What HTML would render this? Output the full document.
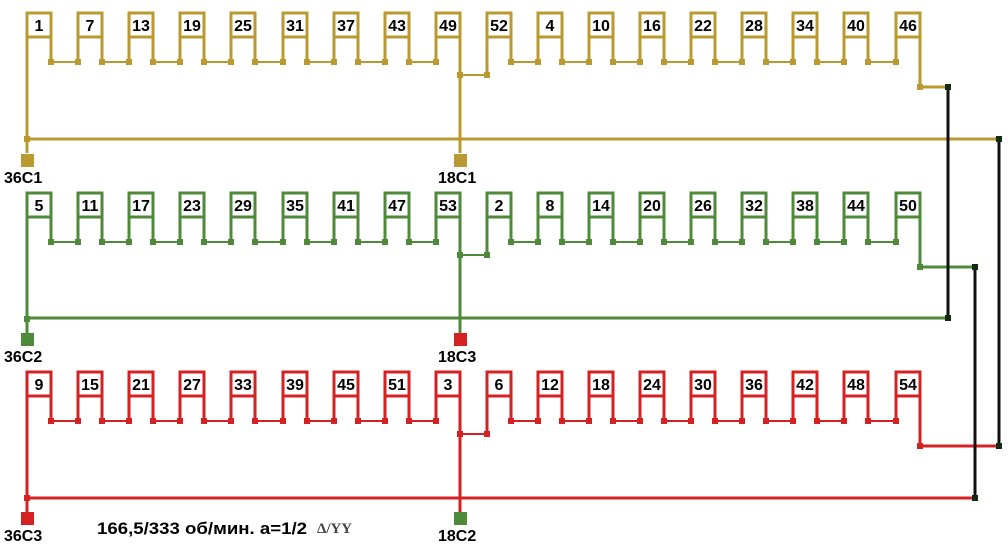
<!DOCTYPE html>
<html><head><meta charset="utf-8"><style>
html,body{margin:0;padding:0;background:#fff;width:1008px;height:550px;overflow:hidden}
svg text{font-family:"Liberation Sans",sans-serif;font-weight:bold;font-size:16px;fill:#000}
</style></head><body>
<svg width="1008" height="550" viewBox="0 0 1008 550" xmlns="http://www.w3.org/2000/svg">
<defs>
<g id="row">
<path fill="none" stroke="currentColor" stroke-width="3" d="M27 62V13H51V62M27 37H51M78 62V13H102V62M78 37H102M129 62V13H153V62M129 37H153M180 62V13H204V62M180 37H204M231 62V13H255V62M231 37H255M283 62V13H307V62M283 37H307M334 62V13H358V62M334 37H358M385 62V13H409V62M385 37H409M436 62V13H460V62M436 37H460M487 75V13H511V62M487 37H511M538 62V13H562V62M538 37H562M589 62V13H613V62M589 37H613M640 62V13H664V62M640 37H664M691 62V13H715V62M691 37H715M742 62V13H766V62M742 37H766M793 62V13H817V62M793 37H817M844 62V13H868V62M844 37H868M896 62V13H920V87M896 37H920"/>
<path fill="none" stroke="currentColor" stroke-width="2" d="M51 62H78M102 62H129M153 62H180M204 62H231M255 62H283M307 62H334M358 62H385M409 62H436M511 62H538M562 62H589M613 62H640M664 62H691M715 62H742M766 62H793M817 62H844M868 62H896M460 75H487"/>
<path fill="none" stroke="currentColor" stroke-width="3" d="M27 62V153M460 62V153"/>
<g fill="currentColor">
<rect x="48" y="59" width="6" height="6"/><rect x="75" y="59" width="6" height="6"/>
<rect x="99" y="59" width="6" height="6"/><rect x="126" y="59" width="6" height="6"/>
<rect x="150" y="59" width="6" height="6"/><rect x="177" y="59" width="6" height="6"/>
<rect x="201" y="59" width="6" height="6"/><rect x="228" y="59" width="6" height="6"/>
<rect x="252" y="59" width="6" height="6"/><rect x="280" y="59" width="6" height="6"/>
<rect x="304" y="59" width="6" height="6"/><rect x="331" y="59" width="6" height="6"/>
<rect x="355" y="59" width="6" height="6"/><rect x="382" y="59" width="6" height="6"/>
<rect x="406" y="59" width="6" height="6"/><rect x="433" y="59" width="6" height="6"/>
<rect x="508" y="59" width="6" height="6"/><rect x="535" y="59" width="6" height="6"/>
<rect x="559" y="59" width="6" height="6"/><rect x="586" y="59" width="6" height="6"/>
<rect x="610" y="59" width="6" height="6"/><rect x="637" y="59" width="6" height="6"/>
<rect x="661" y="59" width="6" height="6"/><rect x="688" y="59" width="6" height="6"/>
<rect x="712" y="59" width="6" height="6"/><rect x="739" y="59" width="6" height="6"/>
<rect x="763" y="59" width="6" height="6"/><rect x="790" y="59" width="6" height="6"/>
<rect x="814" y="59" width="6" height="6"/><rect x="841" y="59" width="6" height="6"/>
<rect x="865" y="59" width="6" height="6"/><rect x="893" y="59" width="6" height="6"/>
<rect x="457" y="72" width="6" height="6"/><rect x="484" y="72" width="6" height="6"/>
<rect x="917" y="84" width="6" height="6"/>
<rect x="24" y="136" width="6" height="6"/>
</g>
</g>
</defs>

<path fill="none" stroke="#b89a30" stroke-width="3" d="M27 139H999M920 87H948"/>
<path fill="none" stroke="#4e8a3a" stroke-width="3" d="M27 318H948M920 267H975"/>
<path fill="none" stroke="#d42222" stroke-width="3" d="M27 498H975M920 446H999"/>

<use href="#row" color="#b89a30"/>
<use href="#row" color="#4e8a3a" transform="translate(0,180)"/>
<use href="#row" color="#d42222" transform="translate(0,359)"/>

<path fill="none" stroke="#111" stroke-width="3" d="M948 87V318M975 267V498M999 139V446"/>
<g fill="#132a13">
<rect x="945" y="84" width="6" height="6"/><rect x="945" y="315" width="6" height="6"/>
<rect x="972" y="264" width="6" height="6"/><rect x="972" y="495" width="6" height="6"/>
<rect x="996" y="136" width="6" height="6"/><rect x="996" y="443" width="6" height="6"/>
</g>

<rect x="21" y="154" width="13" height="13" fill="#b89a30"/>
<rect x="454" y="154" width="13" height="13" fill="#b89a30"/>
<rect x="21" y="333" width="13" height="13" fill="#4e8a3a"/>
<rect x="454" y="333" width="13" height="13" fill="#d42222"/>
<rect x="21" y="512" width="13" height="13" fill="#d42222"/>
<rect x="454" y="512" width="13" height="13" fill="#4e8a3a"/>
<text x="4" y="183">36C1</text><text x="438" y="183">18C1</text>
<text x="4" y="362">36C2</text><text x="438" y="362">18C3</text>
<text x="4" y="541">36C3</text><text x="438" y="541">18C2</text>

<text x="97" y="534" style="font-size:17px" textLength="210" lengthAdjust="spacingAndGlyphs">166,5/333 об/мин. а=1/2</text>
<text x="317" y="533" style="font-family:'Liberation Serif',serif;font-size:15px;font-weight:bold;fill:#444" textLength="35" lengthAdjust="spacingAndGlyphs">Δ/YY</text>

<g text-anchor="middle">
<text x="39" y="31">1</text><text x="90" y="31">7</text><text x="141" y="31">13</text><text x="192" y="31">19</text><text x="243" y="31">25</text><text x="295" y="31">31</text><text x="346" y="31">37</text><text x="397" y="31">43</text><text x="448" y="31">49</text><text x="499" y="31">52</text><text x="550" y="31">4</text><text x="601" y="31">10</text><text x="652" y="31">16</text><text x="703" y="31">22</text><text x="754" y="31">28</text><text x="805" y="31">34</text><text x="856" y="31">40</text><text x="908" y="31">46</text>
<text x="39" y="211">5</text><text x="90" y="211">11</text><text x="141" y="211">17</text><text x="192" y="211">23</text><text x="243" y="211">29</text><text x="295" y="211">35</text><text x="346" y="211">41</text><text x="397" y="211">47</text><text x="448" y="211">53</text><text x="499" y="211">2</text><text x="550" y="211">8</text><text x="601" y="211">14</text><text x="652" y="211">20</text><text x="703" y="211">26</text><text x="754" y="211">32</text><text x="805" y="211">38</text><text x="856" y="211">44</text><text x="908" y="211">50</text>
<text x="39" y="390">9</text><text x="90" y="390">15</text><text x="141" y="390">21</text><text x="192" y="390">27</text><text x="243" y="390">33</text><text x="295" y="390">39</text><text x="346" y="390">45</text><text x="397" y="390">51</text><text x="448" y="390">3</text><text x="499" y="390">6</text><text x="550" y="390">12</text><text x="601" y="390">18</text><text x="652" y="390">24</text><text x="703" y="390">30</text><text x="754" y="390">36</text><text x="805" y="390">42</text><text x="856" y="390">48</text><text x="908" y="390">54</text>
</g>
</svg>
</body></html>
